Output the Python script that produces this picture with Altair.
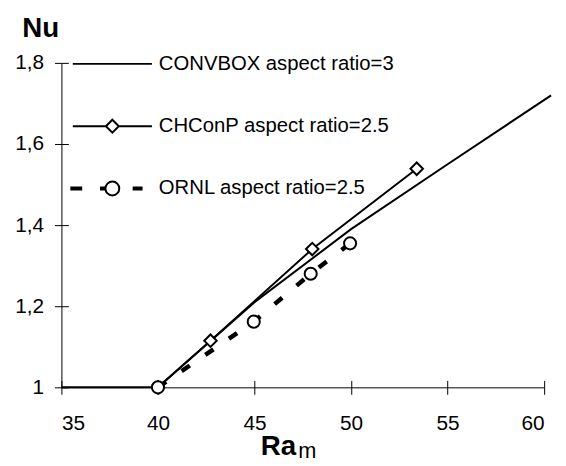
import altair as alt
import pandas as pd

# ---------------- data ----------------
series_names = ["CONVBOX aspect ratio=3", "CHConP aspect ratio=2.5", "ORNL aspect ratio=2.5"]

conv_ra = [35, 40, 45, 50, 55, 60.36]
conv_nu = [1.0, 1.0, 1.21, 1.39, 1.55, 1.72]

chc_ra = [40, 42.72, 47.99, 53.4]
chc_nu = [1.0, 1.115, 1.341, 1.539]

ornl_ra = [40, 44.96, 47.91, 49.95]
ornl_nu = [1.0, 1.162, 1.28, 1.355]

x_ticks = [35, 40, 45, 50, 55, 60]
y_ticks = [1.0, 1.2, 1.4, 1.6, 1.8]


def frame(name, ra, nu):
    return pd.DataFrame({"series": [name] * len(ra), "Ra": ra, "Nu": nu})


conv_df = frame(series_names[0], conv_ra, conv_nu)
chc_df = frame(series_names[1], chc_ra, chc_nu)
ornl_df = frame(series_names[2], ornl_ra, ornl_nu)
all_df = pd.concat([conv_df, chc_df, ornl_df], ignore_index=True)

FONT = "Liberation Sans"

xs = alt.Scale(domain=[35, 60], nice=False, zero=False)
ys = alt.Scale(domain=[1, 1.8], nice=False, zero=False)

# main axes (domain line, outer half of ticks, labels, titles)
x_main = alt.Axis(orient="bottom", values=x_ticks, format="d", title="Ra",
                  titleFont=FONT, titleFontSize=28, titleFontWeight="bold",
                  titleAlign="left", titleBaseline="alphabetic", titleX=201, titleY=68,
                  titleColor="black", labelFont=FONT, labelFontSize=21, labelColor="black",
                  labelPadding=19, tickSize=7, tickColor="black", domainColor="black",
                  grid=False)
y_main = alt.Axis(orient="left", values=y_ticks, title="Nu", titleAngle=0,
                  titleFont=FONT, titleFontSize=28, titleFontWeight="bold",
                  titleAlign="left", titleBaseline="alphabetic", titleX=-40, titleY=-27,
                  titleColor="black", labelFont=FONT, labelFontSize=21, labelColor="black",
                  labelPadding=11, tickSize=7, tickColor="black", domainColor="black",
                  grid=False,
                  labelExpr="datum.value == 1 ? '1' : replace(format(datum.value, '.1f'), '.', ',')")
# inner half of the crossing ticks (+ the subscript of the x title)
x_inner = alt.Axis(orient="bottom", values=x_ticks, labels=False, domain=False,
                   tickSize=7, tickColor="black", offset=-7, grid=False,
                   title="m", titleFont=FONT, titleFontSize=22, titleFontWeight="normal",
                   titleAlign="left", titleBaseline="alphabetic", titleX=239, titleY=78,
                   titleColor="black")
y_inner = alt.Axis(orient="left", values=y_ticks, labels=False, domain=False,
                   tickSize=7, tickColor="black", offset=-7, grid=False, title=None)

# legend symbols: custom paths (unit = 10 px with symbolSize 400)
p_conv = "M-4,0L4,0"
p_chc = "M-4,0L-0.65,0M0.65,0L4,0M-0.65,0L0,-0.65L0.65,0L0,0.65Z"
p_ornl = ("M-4.15,-0.1L-3.15,-0.1L-3.15,0.1L-4.15,0.1Z"
          "M-1.15,-0.1L-0.7,-0.1L-0.7,0.1L-1.15,0.1Z"
          "M0.7,0A0.7,0.7,0,1,1,-0.7,0A0.7,0.7,0,1,1,0.7,0Z"
          "M2.15,-0.1L2.95,-0.1L2.95,0.1L2.15,0.1Z")

legend = alt.Legend(title=None, orient="none", legendX=40.5, legendY=-10,
                    symbolSize=400, symbolStrokeWidth=2, symbolFillColor="white",
                    symbolStrokeColor="black", symbolOpacity=1,
                    labelFont=FONT, labelFontSize=20.5, labelColor="black",
                    labelOffset=36, rowPadding=41, padding=0, labelLimit=400)

X = lambda ax: alt.X("Ra:Q", scale=xs, axis=ax)
Y = lambda ax: alt.Y("Nu:Q", scale=ys, axis=ax)

conv_line = alt.Chart(conv_df).mark_line(color="black", strokeWidth=2).encode(
    x=X(x_main), y=Y(y_main))
chc_line = alt.Chart(chc_df).mark_line(color="black", strokeWidth=2).encode(
    x=X(x_inner), y=Y(y_inner))
ornl_line = alt.Chart(ornl_df).mark_line(color="black", strokeWidth=4.5,
                                         strokeDash=[10, 19]).encode(
    x=X(None), y=Y(None))
chc_pts = alt.Chart(chc_df).mark_point(shape="diamond", filled=True, fill="white",
                                       stroke="black", strokeWidth=2, size=160,
                                       opacity=1).encode(x=X(None), y=Y(None))
ornl_pts = alt.Chart(ornl_df).mark_point(shape="circle", filled=True, fill="white",
                                         stroke="black", strokeWidth=2, size=150,
                                         opacity=1).encode(x=X(None), y=Y(None))
# legend driver: no rows are drawn (filtered out), the explicit domain keeps the entries
legend_layer = alt.Chart(all_df).transform_filter("false").mark_point(
    filled=False, color="black", strokeWidth=2, opacity=1).encode(
    x=X(None), y=Y(None),
    shape=alt.Shape("series:N",
                    scale=alt.Scale(domain=series_names, range=[p_conv, p_chc, p_ornl]),
                    legend=legend))

chart = alt.layer(conv_line, chc_line, ornl_line, chc_pts, ornl_pts, legend_layer).resolve_axis(
    x="independent", y="independent"
).properties(
    width=488, height=328,
    autosize=alt.AutoSizeParams(type="none"),
    padding={"left": 54, "top": 53, "right": 14, "bottom": 75},
    background="white",
).configure_view(stroke=None)

chart.save("out.html", embed_options={"renderer": "svg", "actions": False})
